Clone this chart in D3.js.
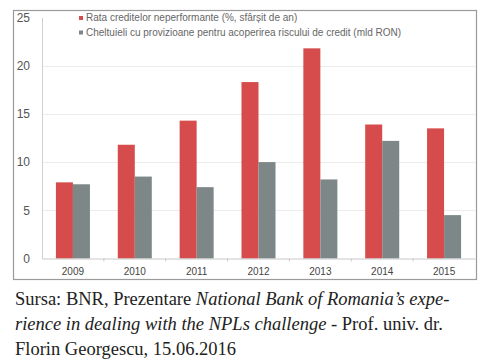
<!DOCTYPE html>
<html><head><meta charset="utf-8">
<script src="https://cdn.jsdelivr.net/npm/d3@7"></script>
<style>body{margin:0;background:#fff;}svg{display:block;}</style>
</head><body>
<script>
const years = ["2009","2010","2011","2012","2013","2014","2015"];
const nplRate = [7.9, 11.8, 14.3, 18.3, 21.8, 13.9, 13.5];
const provisions = [7.7, 8.5, 7.4, 10.0, 8.2, 12.2, 4.5];
const yTicks = [0, 5, 10, 15, 20, 25];
const seriesNames = ["Rata creditelor neperformante (%, sfârșit de an)", "Cheltuieli cu provizioane pentru acoperirea riscului de credit (mld RON)"];
const colors = ["#d64b4b", "#7d8787"];

const W = 491, H = 363;
const svg = d3.select("body").append("svg").attr("width", W).attr("height", H);

// chart frame
svg.append("rect").attr("x", 13.5).attr("y", 10.5).attr("width", 463).attr("height", 269)
  .attr("fill", "#fff").attr("stroke", "#9a9a9a").attr("stroke-width", 1.2);

const x = d3.scaleBand().domain(years).range([42, 475]).paddingInner(0.45).paddingOuter(0.225);
const xb = d3.scaleBand().domain(years).range([42, 475]);
const y = d3.scaleLinear().domain([0, 25]).range([258.5, 17.5]);

// gridlines
svg.append("g").selectAll("line").data(yTicks.filter(d => d > 0 && d < 25)).join("line")
  .attr("x1", 42).attr("x2", 475).attr("y1", d => Math.round(y(d)) + 0.5).attr("y2", d => Math.round(y(d)) + 0.5)
  .attr("stroke", "#ececec").attr("stroke-width", 1);

// y axis
const yAxis = svg.append("g").attr("transform", "translate(42,0)")
  .call(d3.axisLeft(y).tickValues(yTicks).tickSize(0).tickPadding(12));
yAxis.select(".domain").attr("stroke", "#d0d0d0");
yAxis.selectAll("text").attr("font-family", "Liberation Sans, Arial, sans-serif").attr("font-size", 12).attr("fill", "#555");

// bars
const inner = x.bandwidth() / 2;
const gBars = svg.append("g");
years.forEach((yr, i) => {
  [nplRate[i], provisions[i]].forEach((v, s) => {
    gBars.append("rect")
      .attr("x", x(yr) + s * inner).attr("width", inner)
      .attr("y", y(v)).attr("height", y(0) - y(v))
      .attr("fill", colors[s]);
  });
});

// x axis
const xAxis = svg.append("g").attr("transform", `translate(0,${y(0)})`)
  .call(d3.axisBottom(xb).tickSize(0).tickPadding(9));
xAxis.select(".domain").attr("stroke", "#c8c8c8");
xAxis.selectAll("text").attr("font-family", "Liberation Sans, Arial, sans-serif").attr("font-size", 10).attr("fill", "#444");
// small tick marks at band boundaries
svg.append("g").selectAll("line").data(years.slice(1)).join("line")
  .attr("x1", d => xb(d)).attr("x2", d => xb(d)).attr("y1", y(0)).attr("y2", y(0) + 3)
  .attr("stroke", "#c8c8c8");

// legend
const lg = svg.append("g");
seriesNames.forEach((n, i) => {
  const ly = 21 + i * 14.5;
  lg.append("rect").attr("x", 79).attr("y", ly - 5).attr("width", 4).attr("height", 4).attr("fill", colors[i]);
  lg.append("text").attr("x", 86).attr("y", ly).text(n)
    .attr("font-family", "Liberation Sans, Arial, sans-serif").attr("font-size", 10).attr("fill", "#666");
});

// caption
const cap = svg.append("text").attr("font-family", "Liberation Serif, Times New Roman, serif")
  .attr("font-size", 18.5).attr("fill", "#222");
const l1 = cap.append("tspan").attr("x", 15).attr("y", 305);
l1.append("tspan").text("Sursa: BNR, Prezentare ");
l1.append("tspan").attr("font-style", "italic").text("National Bank of Romania’s expe-");
const l2 = cap.append("tspan").attr("x", 15).attr("y", 330);
l2.append("tspan").attr("font-style", "italic").text("rience in dealing with the NPLs challenge");
l2.append("tspan").text(" - Prof. univ. dr.");
cap.append("tspan").attr("x", 15).attr("y", 355).text("Florin Georgescu, 15.06.2016");
</script>
</body></html>
